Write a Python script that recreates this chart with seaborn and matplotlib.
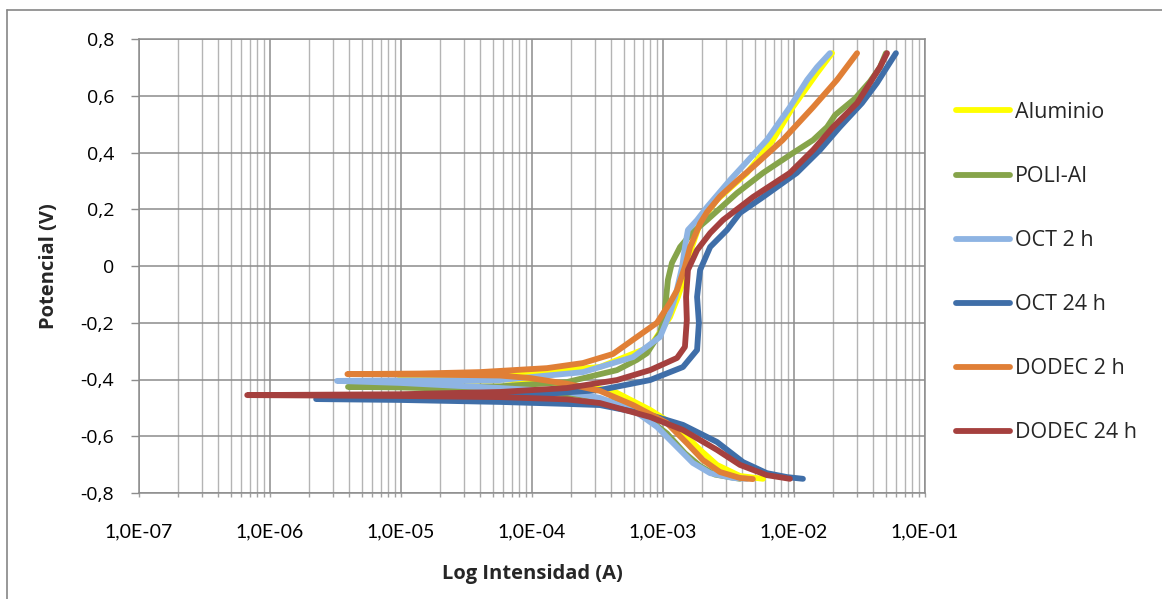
import numpy as np
import pandas as pd
import matplotlib
matplotlib.use("Agg")
import matplotlib.pyplot as plt
from matplotlib import font_manager
from matplotlib.ticker import FixedLocator, FuncFormatter, NullFormatter
from matplotlib.lines import Line2D
import seaborn as sns

# Polarization curves: current (A) and potential (V), cathodic end -> Ecorr -> anodic end
aluminio_i = [5.8e-3, 3.87e-3, 2.58e-3, 1.92e-3, 1.28e-3, 7.96e-4, 4.15e-4, 1.37e-4, 4.0e-5, 9.8e-6,
              5.7e-5, 3.3e-4, 7.96e-4, 1.13e-3, 1.30e-3, 1.52e-3, 1.66e-3, 1.92e-3, 2.17e-3, 2.58e-3,
              4.38e-3, 6.9e-3, 9.8e-3, 1.50e-2, 1.95e-2]
aluminio_e = [-0.750, -0.740, -0.701, -0.648, -0.567, -0.507, -0.440, -0.409, -0.395, -0.388,
              -0.384, -0.356, -0.285, -0.180, -0.109, -0.014, 0.067, 0.152, 0.187, 0.233,
              0.328, 0.444, 0.560, 0.680, 0.750]

poli_i = [3.87e-3, 2.49e-3, 1.92e-3, 1.47e-3, 1.07e-3, 7.3e-4, 4.7e-4, 2.32e-4, 5.7e-5, 9.8e-6, 3.94e-6,
          9.8e-6, 5.7e-5, 1.85e-4, 4.45e-4, 6.3e-4, 7.55e-4, 9.5e-4, 1.035e-3, 1.09e-3, 1.17e-3,
          1.35e-3, 1.66e-3, 2.17e-3, 3.67e-3, 5.8e-3, 9.8e-3, 1.40e-2, 1.79e-2, 2.06e-2, 2.92e-2,
          3.8e-2, 4.53e-2, 5.03e-2]
poli_e = [-0.750, -0.735, -0.705, -0.660, -0.590, -0.530, -0.485, -0.455, -0.437, -0.428, -0.426,
          -0.425, -0.424, -0.409, -0.367, -0.331, -0.307, -0.236, -0.155, -0.049, 0.011,
          0.067, 0.116, 0.162, 0.257, 0.328, 0.398, 0.444, 0.490, 0.532, 0.590,
          0.650, 0.700, 0.750]

oct2_i = [4.38e-3, 3.42e-3, 2.29e-3, 1.69e-3, 1.28e-3, 9.0e-4, 5.9e-4, 3.3e-4, 1.85e-4, 5.7e-5, 9.8e-6, 3.25e-6,
          9.8e-6, 5.7e-5, 2.45e-4, 5.9e-4, 9.5e-4, 1.13e-3, 1.24e-3, 1.40e-3, 1.47e-3, 1.55e-3,
          1.82e-3, 2.17e-3, 3.25e-3, 6.2e-3, 9.3e-3, 1.26e-2, 1.50e-2, 1.88e-2]
oct2_e = [-0.750, -0.747, -0.730, -0.694, -0.638, -0.567, -0.507, -0.465, -0.444, -0.430, -0.412, -0.405,
          -0.403, -0.402, -0.374, -0.321, -0.250, -0.166, -0.109, -0.003, 0.067, 0.127,
          0.162, 0.208, 0.303, 0.444, 0.560, 0.656, 0.701, 0.750]

oct24_i = [1.17e-2, 8.85e-3, 6.2e-3, 4.08e-3, 2.58e-3, 1.42e-3, 7.96e-4, 3.3e-4, 1.85e-4, 5.7e-5, 9.8e-6, 2.25e-6,
           9.8e-6, 5.7e-5, 3.3e-4, 7.96e-4, 1.42e-3, 1.82e-3, 1.88e-3, 1.82e-3, 1.92e-3, 2.29e-3,
           3.08e-3, 3.87e-3, 5.8e-3, 1.05e-2, 1.58e-2, 2.24e-2, 3.30e-2, 4.30e-2, 5.13e-2, 6.0e-2]
oct24_e = [-0.750, -0.744, -0.730, -0.691, -0.620, -0.560, -0.525, -0.490, -0.486, -0.479, -0.472, -0.469,
           -0.468, -0.462, -0.437, -0.402, -0.356, -0.296, -0.200, -0.109, -0.014, 0.067,
           0.127, 0.187, 0.243, 0.328, 0.409, 0.490, 0.574, 0.645, 0.701, 0.750]

dodec2_i = [4.86e-3, 3.87e-3, 2.72e-3, 2.02e-3, 1.52e-3, 1.07e-3, 5.9e-4, 3.3e-4, 1.85e-4, 9.7e-5, 5.7e-5, 1.40e-5, 3.9e-6,
            1.40e-5, 4.0e-5, 1.30e-4, 2.45e-4, 4.15e-4, 5.9e-4, 9.0e-4, 1.13e-3, 1.28e-3, 1.47e-3,
            1.61e-3, 1.92e-3, 2.17e-3, 2.72e-3, 3.67e-3, 4.86e-3, 8.2e-3, 1.40e-2, 2.13e-2, 3.03e-2]
dodec2_e = [-0.751, -0.747, -0.726, -0.684, -0.624, -0.553, -0.490, -0.440, -0.415, -0.395, -0.386, -0.382, -0.381,
            -0.379, -0.374, -0.360, -0.342, -0.310, -0.260, -0.200, -0.130, -0.085, -0.003,
            0.067, 0.150, 0.190, 0.245, 0.300, 0.349, 0.444, 0.560, 0.656, 0.750]

dodec24_i = [9.3e-3, 6.2e-3, 3.87e-3, 2.58e-3, 1.42e-3, 7.96e-4, 3.3e-4, 1.85e-4, 5.7e-5, 9.8e-6, 6.7e-7,
             9.8e-6, 5.7e-5, 1.85e-4, 4.45e-4, 7.96e-4, 1.28e-3, 1.47e-3, 1.52e-3, 1.50e-3, 1.55e-3,
             1.82e-3, 2.29e-3, 2.87e-3, 4.86e-3, 9.3e-3, 1.40e-2, 1.99e-2, 3.03e-2, 3.8e-2, 4.53e-2, 5.13e-2]
dodec24_e = [-0.750, -0.737, -0.701, -0.648, -0.578, -0.532, -0.483, -0.470, -0.462, -0.458, -0.455,
             -0.452, -0.444, -0.430, -0.402, -0.367, -0.324, -0.285, -0.190, -0.109, -0.014,
             0.056, 0.116, 0.162, 0.243, 0.328, 0.409, 0.490, 0.574, 0.645, 0.701, 0.750]

series_names = ["Aluminio", "POLI-Al", "OCT 2 h", "OCT 24 h", "DODEC 2 h", "DODEC 24 h"]
series_i = [aluminio_i, poli_i, oct2_i, oct24_i, dodec2_i, dodec24_i]
series_e = [aluminio_e, poli_e, oct2_e, oct24_e, dodec2_e, dodec24_e]
series_colors = ["#FFFF00", "#86A44A", "#8EB4E3", "#3F6EA8", "#E07F36", "#A5403E"]

x_ticks = [1e-7, 1e-6, 1e-5, 1e-4, 1e-3, 1e-2, 1e-1]
y_ticks = [-0.8, -0.6, -0.4, -0.2, 0.0, 0.2, 0.4, 0.6, 0.8]

frames = []
for name, ii, ee in zip(series_names, series_i, series_e):
    frames.append(pd.DataFrame({"I": ii, "E": ee, "serie": name}))
df = pd.concat(frames, ignore_index=True)

sns.set_theme(style="white")
plt.rcParams["font.family"] = ["Open Sans", "DejaVu Sans"]

# narrow face for the exponent labels on the current axis
installed = {f.name for f in font_manager.fontManager.ttflist}
narrow_family = ["Liberation Sans Narrow"] if "Liberation Sans Narrow" in installed else ["Lato", "DejaVu Sans"]

fig = plt.figure(figsize=(11.62, 5.99), dpi=100)
ax = fig.add_axes([139 / 1162, 1 - 493 / 599, (925 - 139) / 1162, (493 - 39) / 599])

ax.set_xscale("log")
sns.lineplot(data=df, x="I", y="E", hue="serie", hue_order=series_names,
             palette=dict(zip(series_names, series_colors)), sort=False, estimator=None,
             units="serie", linewidth=4.2, ax=ax, legend=False)
for ln in ax.get_lines():
    ln.set_solid_capstyle("round")
    ln.set_solid_joinstyle("round")

ax.set_xlim(1e-7, 1e-1)
ax.set_ylim(-0.8, 0.8)

# grid: major and minor lines in gray
ax.xaxis.set_major_locator(FixedLocator(x_ticks))
ax.xaxis.set_minor_locator(FixedLocator([m * 10.0 ** e for e in range(-7, -1) for m in range(2, 10)]))
ax.xaxis.set_minor_formatter(NullFormatter())
ax.yaxis.set_major_locator(FixedLocator(y_ticks))
ax.grid(which="major", axis="both", color="#8C8C8C", linewidth=1.1)
ax.grid(which="minor", axis="x", color="#B4B4B4", linewidth=1.0)
ax.set_axisbelow(True)

def fmt_x(v, pos):
    return "1,0E{:03d}".format(int(round(np.log10(v))))

def fmt_y(v, pos):
    if abs(v) < 1e-9:
        return "0"
    return "{:.1f}".format(v).replace(".", ",")

ax.xaxis.set_major_formatter(FuncFormatter(fmt_x))
ax.yaxis.set_major_formatter(FuncFormatter(fmt_y))

ax.tick_params(axis="y", which="major", direction="out", length=6, width=1, color="#8C8C8C",
               pad=12, labelsize=14, labelcolor="black", left=True)
ax.tick_params(axis="x", which="both", direction="out", length=3, width=1, color="#A0A0A0",
               pad=19, labelsize=14, labelcolor="black", bottom=True)
for lbl in ax.get_xticklabels():
    lbl.set_family(narrow_family)

for sp in ax.spines.values():
    sp.set_color("#8C8C8C")
    sp.set_linewidth(1.1)

ax.set_xlabel("Log Intensidad (A)", fontsize=14.5, fontweight="bold", labelpad=17)
ax.set_ylabel("Potencial (V)", fontsize=14.5, fontweight="bold", labelpad=15)

handles = [Line2D([0], [0], color=c, linewidth=4.2, solid_capstyle="round") for c in series_colors]
fig.legend(handles, series_names, loc="upper left", bbox_to_anchor=(956 / 1162, 1 - 102 / 599),
           frameon=False, fontsize=15.5, handlelength=2.5, handletextpad=0.23,
           labelspacing=2.0, borderpad=0, borderaxespad=0)

# chart area border
border_kw = dict(color="#868686", linewidth=1.2, transform=fig.transFigure)
fig.add_artist(Line2D([7 / 1162, 1.0], [1 - 10 / 599, 1 - 10 / 599], **border_kw))
fig.add_artist(Line2D([7 / 1162, 7 / 1162], [0.0, 1 - 10 / 599], **border_kw))

fig.savefig("out.png", dpi=100)
